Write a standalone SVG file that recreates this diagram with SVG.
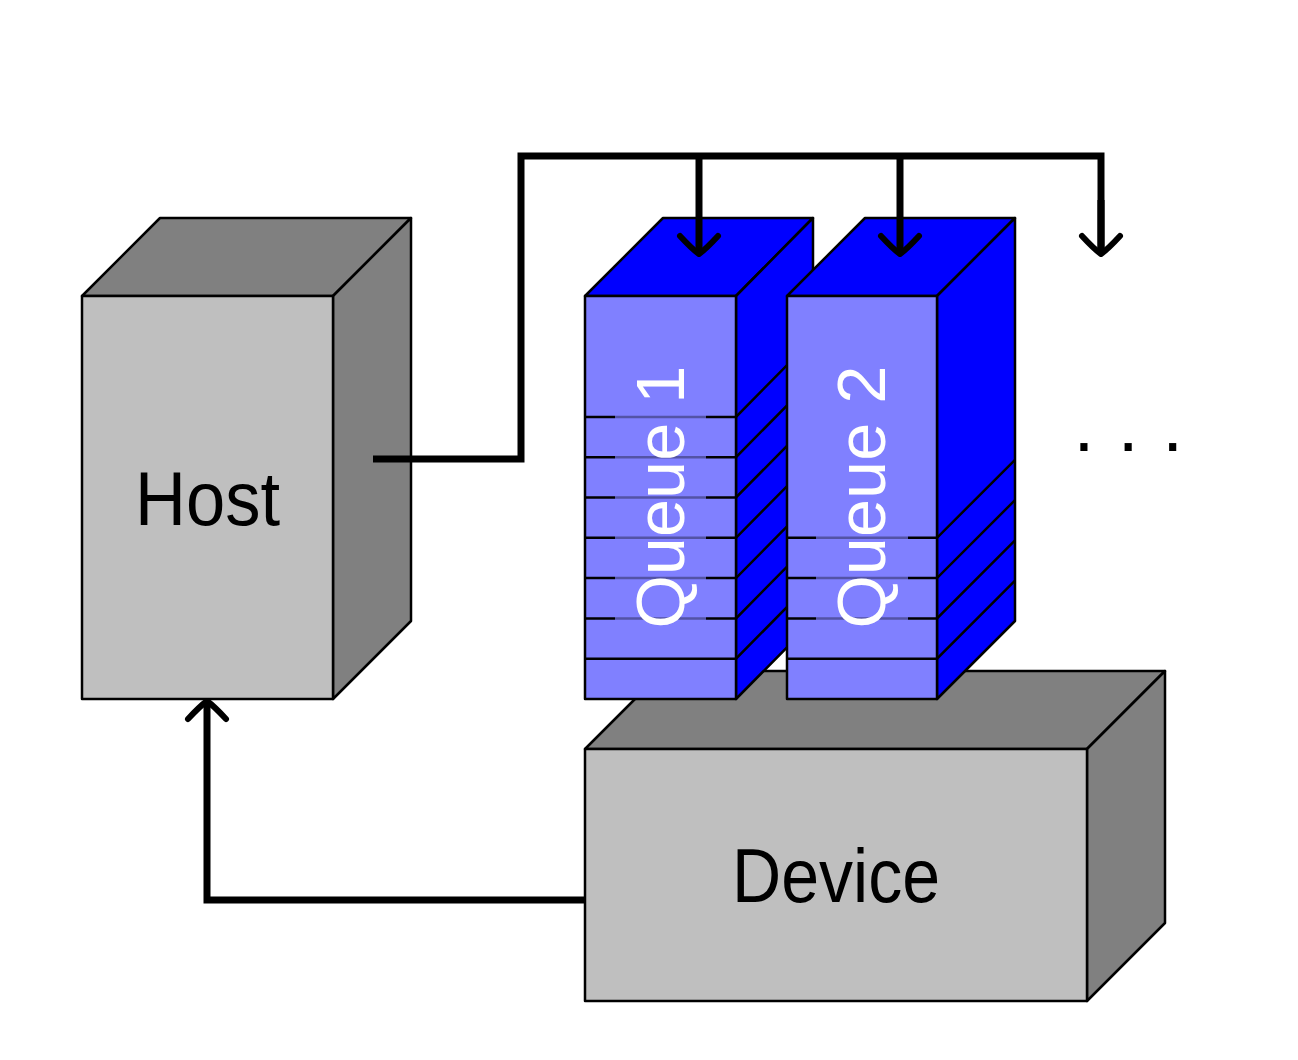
<svg xmlns="http://www.w3.org/2000/svg" width="1298" height="1060" viewBox="0 0 1298 1060">
<style>
.box{stroke:#000;stroke-width:2.5;stroke-linejoin:round}
.gf{fill:#bfbfbf}.gs{fill:#808080}
.qf{fill:#8080ff}.qs{fill:#0000ff}
.slot{stroke:#000;stroke-width:2.5;fill:none}
.lbl{font-family:"Liberation Sans",Arial,sans-serif;text-anchor:middle}
.con{fill:none;stroke:#000;stroke-width:7;stroke-linejoin:miter}
.dim{fill:#8080ff;opacity:0.65}
</style>
<defs>
<marker id="to" markerUnits="userSpaceOnUse" markerWidth="40" markerHeight="40" refX="0" refY="0" orient="auto" overflow="visible">
<path d="M -18 -19 Q -5 -7 0 0 Q -5 7 -18 19" fill="none" stroke="#000" stroke-width="6" stroke-linecap="round" stroke-linejoin="round"/>
</marker>
</defs>

<g id="host">
<polygon class="box gs" points="82,296 160,218 411,218 333,296"/>
<polygon class="box gs" points="333,296 411,218 411,621 333,699"/>
<rect class="box gf" x="82" y="296" width="251" height="403"/>
<text class="lbl" x="207.5" y="525" font-size="76" textLength="145" lengthAdjust="spacingAndGlyphs">Host</text>
</g>

<g id="device">
<polygon class="box gs" points="585,749 663,671 1165,671 1087,749"/>
<polygon class="box gs" points="1087,749 1165,671 1165,923 1087,1001"/>
<rect class="box gf" x="585" y="749" width="502" height="252"/>
<text class="lbl" x="836" y="902" font-size="76" textLength="208" lengthAdjust="spacingAndGlyphs">Device</text>
</g>

<g id="queue1">
<polygon class="box qs" points="585,296 663,218 813,218 736,296"/>
<polygon class="box qs" points="736,296 813,218 813,621 736,699"/>
<rect class="box qf" x="585" y="296" width="151" height="403"/>
<path class="slot" d="M585 416.9H736l77-78 M585 457.2H736l77-78 M585 497.5H736l77-78 M585 537.8H736l77-78 M585 578.1H736l77-78 M585 618.4H736l77-78 M585 658.7H736l77-78"/>
<rect class="dim" x="615" y="355" width="91" height="285"/>
<text class="lbl" transform="translate(683.5,497) rotate(-90)" font-size="69" fill="#fff" textLength="263" lengthAdjust="spacingAndGlyphs">Queue 1</text>
</g>

<g id="queue2">
<polygon class="box qs" points="787,296 865,218 1015,218 937,296"/>
<polygon class="box qs" points="937,296 1015,218 1015,621 937,699"/>
<rect class="box qf" x="787" y="296" width="150" height="403"/>
<path class="slot" d="M787 537.8H937l78-78 M787 578.1H937l78-78 M787 618.4H937l78-78 M787 658.7H937l78-78"/>
<rect class="dim" x="816" y="355" width="92" height="285"/>
<text class="lbl" transform="translate(885,497) rotate(-90)" font-size="69" fill="#fff" textLength="263" lengthAdjust="spacingAndGlyphs">Queue 2</text>
</g>

<g id="dots">
<text x="1073.5" y="451" font-family="Liberation Sans,Arial,sans-serif" font-size="75" letter-spacing="23.5">...</text>
</g>

<g id="connectors">
<path class="con" d="M373 459H521V156H1101V254"/>
<path class="con" d="M699 156V254" marker-end="url(#to)"/>
<path class="con" d="M900 156V254" marker-end="url(#to)"/>
<path class="con" d="M1101 200V254" marker-end="url(#to)"/>
<path class="con" d="M585 900H207V701" marker-end="url(#to)"/>
</g>
</svg>
